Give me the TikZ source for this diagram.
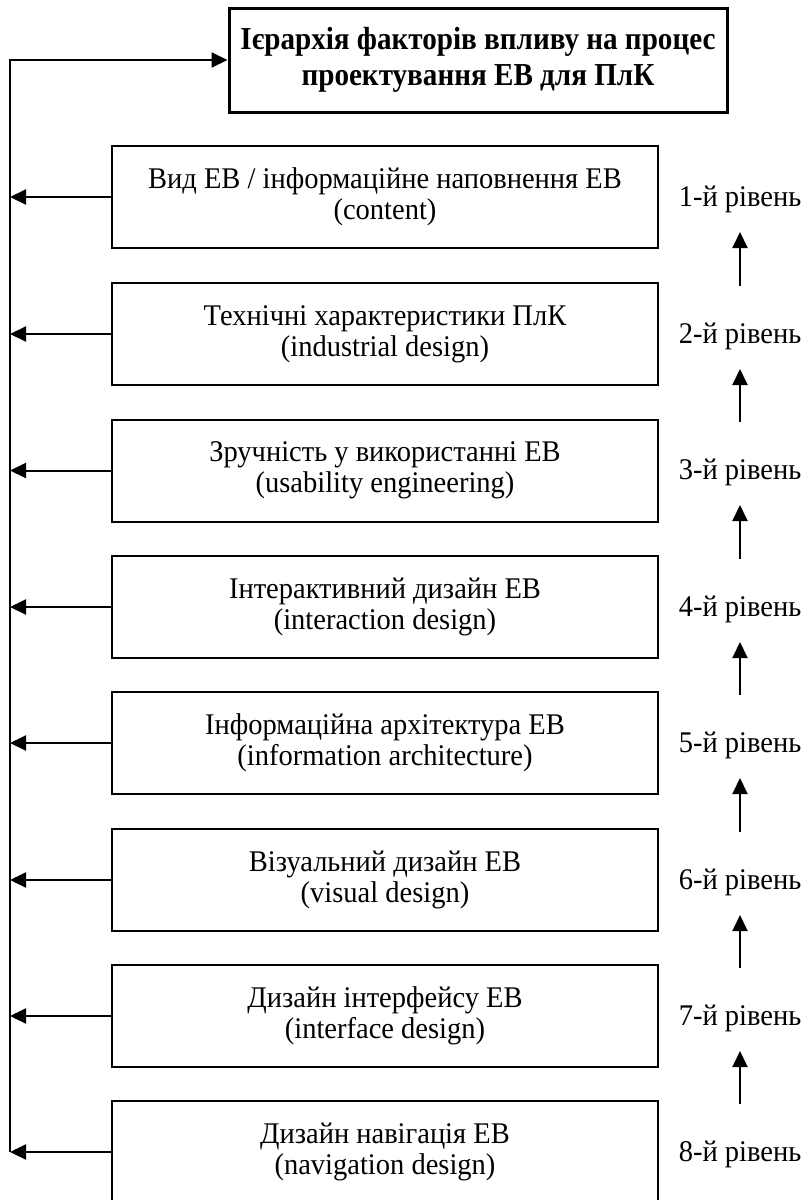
\documentclass[tikz,border=0pt]{standalone}
\usepackage{fontspec}
\setmainfont[FakeStretch=0.95]{Liberation Serif}
\newfontfamily\titlefont[FakeStretch=0.91]{Liberation Serif}
\usetikzlibrary{arrows.meta}
\begin{document}
\begin{tikzpicture}[x=0.5pt,y=-0.5pt,
  lvlbox/.style={draw, line width=1pt, minimum width=273pt, minimum height=51pt, align=center, font=\fontsize{15}{15.5}\selectfont, inner sep=0pt},
  topbox/.style={draw, line width=1.5pt, minimum width=249pt, minimum height=52pt, align=center, font=\titlefont\bfseries\fontsize{16}{18}\selectfont, inner sep=0pt},
  lvl/.style={font=\fontsize{15}{16.5}\selectfont, inner sep=0pt},
  conn/.style={line width=1pt, -{Triangle[length=8pt,width=7.5pt]}},
]
\useasboundingbox (0,0) rectangle (806,1200);
\clip (0,0) rectangle (806,1200);
\fill[white] (0,0) rectangle (806,1200);

\node[topbox] (top) at (478,60) {Ієрархія факторів впливу на процес\\проектування ЕВ для ПлК};

\node[lvlbox] (b1) at (385,197) {Вид ЕВ / інформаційне наповнення ЕВ\\(content)};
\node[lvlbox] (b2) at (385,334) {Технічні характеристики ПлК\\(industrial design)};
\node[lvlbox] (b3) at (385,470.5) {Зручність у використанні ЕВ\\(usability engineering)};
\node[lvlbox] (b4) at (385,607) {Інтерактивний дизайн ЕВ\\(interaction design)};
\node[lvlbox] (b5) at (385,743) {Інформаційна архітектура ЕВ\\(information architecture)};
\node[lvlbox] (b6) at (385,880) {Візуальний дизайн ЕВ\\(visual design)};
\node[lvlbox] (b7) at (385,1016) {Дизайн інтерфейсу ЕВ\\(interface design)};
\node[lvlbox] (b8) at (385,1152) {Дизайн навігація ЕВ\\(navigation design)};

\coordinate (cb) at (10,1152);
\draw[conn] (cb) |- (top.west);
\foreach \i in {1,...,8} {
  \draw[conn] (b\i.west) -- (b\i.west -| cb);
}

\node[lvl] (l1) at (740,199) {1-й рівень};
\node[lvl] (l2) at (740,336) {2-й рівень};
\node[lvl] (l3) at (740,472) {3-й рівень};
\node[lvl] (l4) at (740,609) {4-й рівень};
\node[lvl] (l5) at (740,745) {5-й рівень};
\node[lvl] (l6) at (740,882) {6-й рівень};
\node[lvl] (l7) at (740,1018) {7-й рівень};
\node[lvl] (l8) at (740,1154) {8-й рівень};

\foreach \a/\b in {2/1,3/2,4/3,5/4,6/5,7/6,8/7} {
  \draw[conn] ([yshift=25pt]l\a.center) -- ([yshift=-16.5pt]l\b.center);
}
\end{tikzpicture}
\end{document}
